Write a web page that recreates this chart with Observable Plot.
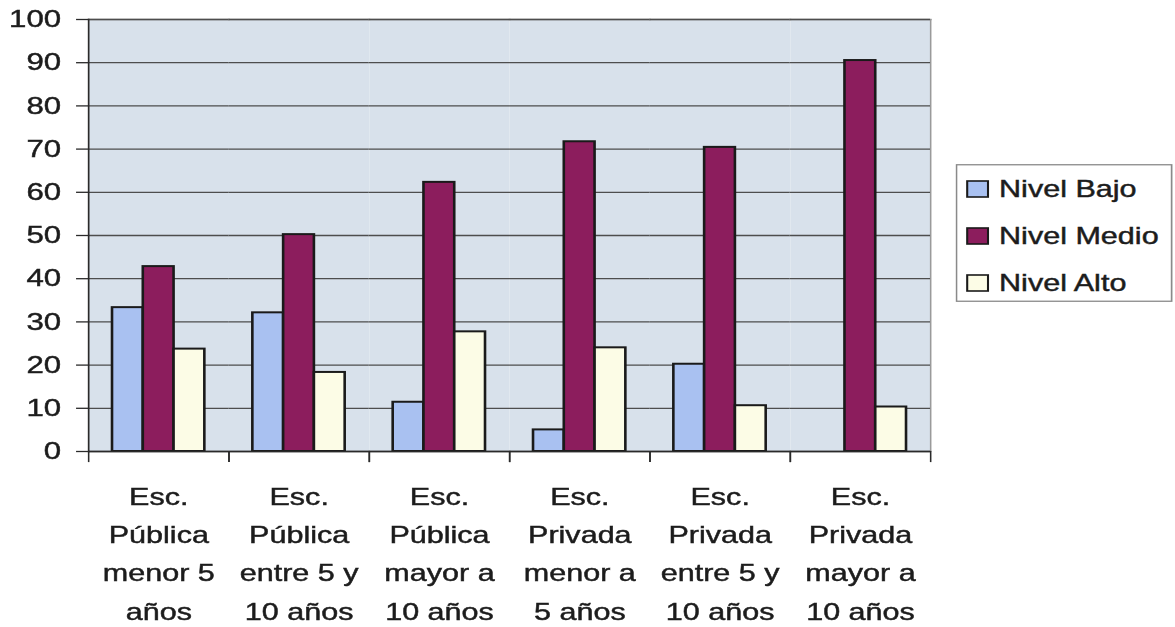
<!DOCTYPE html>
<html>
<head>
<meta charset="utf-8">
<script src="https://cdn.jsdelivr.net/npm/d3@7"></script>
<script src="https://cdn.jsdelivr.net/npm/@observablehq/plot@0.6"></script>
<style>
  html, body { margin: 0; padding: 0; background: #fff; overflow: hidden; }
  #wrap { position: relative; width: 904px; height: 627px; transform: scaleX(1.3); transform-origin: 0 0;
          font-family: "Liberation Sans", Arial, sans-serif; }
  #legend { position: absolute; left: 735.4px; top: 164px; }
  #wrap text { stroke: #1c1c1c; stroke-width: 0.45px; }
</style>
</head>
<body>
<div id="wrap">
  <div id="chart"></div>
  <svg id="legend" width="168" height="139"></svg>
</div>
<script>
// ---- data ----
const categories = [
  "Esc. Pública menor 5 años",
  "Esc. Pública entre 5 y 10 años",
  "Esc. Pública mayor a 10 años",
  "Esc. Privada menor a 5 años",
  "Esc. Privada entre 5 y 10 años",
  "Esc. Privada mayor a 10 años"
];
const tickLabels = [
  "Esc.\nPública\nmenor 5\naños",
  "Esc.\nPública\nentre 5 y\n10 años",
  "Esc.\nPública\nmayor a\n10 años",
  "Esc.\nPrivada\nmenor a\n5 años",
  "Esc.\nPrivada\nentre 5 y\n10 años",
  "Esc.\nPrivada\nmayor a\n10 años"
];
const series = ["Nivel Bajo", "Nivel Medio", "Nivel Alto"];
const nivelBajo  = [33.3, 32.1, 11.4, 5.0, 20.2, 0];
const nivelMedio = [42.8, 50.2, 62.3, 71.7, 70.4, 90.5];
const nivelAlto  = [23.7, 18.3, 27.7, 24.0, 10.6, 10.3];
const yTicks = [0, 10, 20, 30, 40, 50, 60, 70, 80, 90, 100];
const colors = ["#a9c1f1", "#8c1d5d", "#fcfce6"];

// ---- build table ----
const valuesBySeries = [nivelBajo, nivelMedio, nivelAlto];
const rows = [];
categories.forEach((c, i) => {
  series.forEach((s, j) => rows.push({category: c, series: s, value: valuesBySeries[j][i]}));
});
const labelOf = new Map(categories.map((c, i) => [c, tickLabels[i]]));

const W = 904, H = 627, mL = 67.7, mR = 188.6, mT = 19, mB = 176;
const plotH = H - mT - mB;
const dark = "#2a2a2a";

const chart = Plot.plot({
  width: W, height: H,
  marginLeft: mL, marginRight: mR, marginTop: mT, marginBottom: mB,
  style: {fontFamily: "'Liberation Sans', Arial, sans-serif", color: "#1c1c1c", background: "transparent"},
  fx: {domain: categories, padding: 0, round: false, label: null},
  x: {domain: series, paddingInner: 0, paddingOuter: 0.78, round: false, axis: null},
  y: {domain: [0, 100], label: null},
  color: {domain: series, range: colors},
  marks: [
    Plot.frame({fill: "#d8e1eb"}),
    Plot.frame({anchor: "top", stroke: "#9a9a9a", strokeWidth: 1.5}),
    Plot.frame({anchor: "right", stroke: "#9a9a9a", strokeWidth: 1.2, facetAnchor: "right"}),
    Plot.gridY({ticks: yTicks, stroke: "#4d4d4d", strokeOpacity: 1, strokeWidth: 1.3}),
    Plot.barY(rows.filter(d => d.value > 0), {
      fx: "category", x: "series", y: "value", fill: "series",
      stroke: "#1a1a1a", strokeWidth: 2
    }),
    Plot.ruleY([0], {stroke: dark, strokeWidth: 1.5}),
    Plot.frame({anchor: "left", stroke: dark, strokeWidth: 1.3, facetAnchor: "left"}),
    Plot.frame({anchor: "left", stroke: dark, strokeWidth: 1.2, insetTop: plotH, insetBottom: -10}),
    Plot.frame({anchor: "right", stroke: dark, strokeWidth: 1.2, insetTop: plotH, insetBottom: -10}),
    Plot.axisY({ticks: yTicks, tickSize: 9.2, tickPadding: 12, fontSize: 24, stroke: dark, strokeWidth: 1.3}),
    Plot.axisFx({anchor: "bottom", tickSize: 0, tickPadding: 26, lineHeight: 1.63, fontSize: 23.5,
                 tickFormat: d => labelOf.get(d)})
  ]
});
document.getElementById("chart").appendChild(chart);

// ---- legend ----
const leg = d3.select("#legend");
leg.append("rect").attr("x", 0.75).attr("y", 0.75).attr("width", 165.5).attr("height", 136.5)
  .attr("fill", "#fff").attr("stroke", "#8a8a8a").attr("stroke-width", 1.3);
series.forEach((s, i) => {
  const base = 33 + 47 * i;
  leg.append("rect").attr("x", 9).attr("y", base - 16).attr("width", 16).attr("height", 16)
    .attr("fill", colors[i]).attr("stroke", "#1a1a1a").attr("stroke-width", 1.6);
  leg.append("text").attr("x", 33.5).attr("y", base).text(s)
    .attr("font-family", "'Liberation Sans', Arial, sans-serif").attr("font-size", 23.5).attr("fill", "#1c1c1c");
});
</script>
</body>
</html>
